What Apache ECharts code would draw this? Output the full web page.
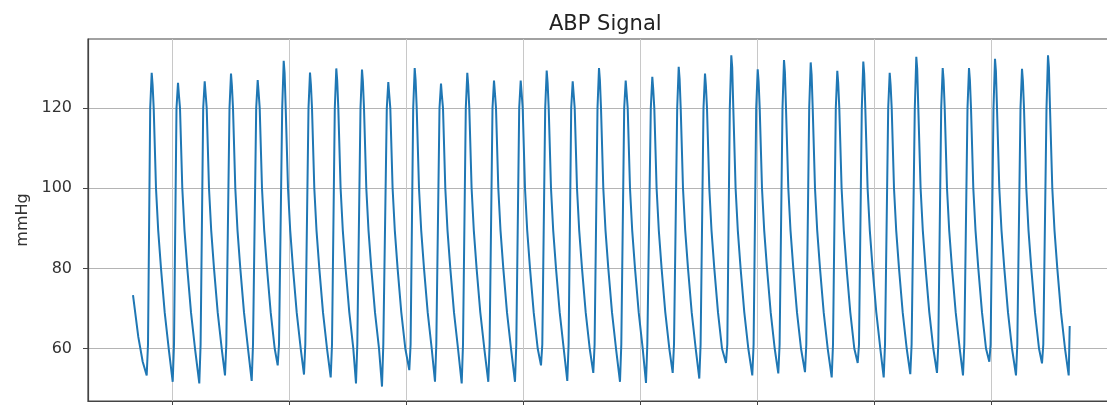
<!DOCTYPE html>
<html>
<head>
<meta charset="utf-8">
<title>ABP Signal</title>
<script src="https://cdn.jsdelivr.net/npm/echarts@6/dist/echarts.min.js"></script>
<style>
    html, body { margin: 0; padding: 0; background: #fff; }
    #abp_chart { width: 1107px; height: 405px; }
</style>
</head>
<body>
<div id="abp_chart"></div>
<script>
    // samples: [sample index, mmHg], one beat per line
    const abp = [
        [0, 73.3], [5.3, 62.9], [9.7, 56.7],
        [13.7, 53.3], [15, 61], [17.2, 120], [18.7, 128.8], [19.6, 125.8], [20.7, 120], [23, 100], [25.2, 89.5], [28, 80], [31.7, 69], [35.7, 60],
        [39.7, 51.7], [41, 61], [43.5, 120], [45, 126.3], [45.9, 123.3], [47, 120], [49.3, 100], [51.5, 89.5], [54.3, 80], [58, 69], [62, 60],
        [66.3, 51.3], [67.6, 61], [70.2, 120], [71.7, 126.7], [72.6, 123.7], [73.7, 120], [76, 100], [78.2, 89.5], [81, 80], [84.7, 69], [88.7, 60],
        [92, 53.3], [93.3, 61], [96.5, 120], [98, 128.6], [98.9, 125.6], [100, 120], [102.3, 100], [104.5, 89.5], [107.3, 80], [111, 69], [115, 60],
        [118.7, 51.9], [120, 61], [123.2, 120], [124.7, 127], [125.6, 124], [126.7, 120], [129, 100], [131.2, 89.5], [134, 80], [137.7, 69], [141.7, 60],
        [144.7, 55.8], [146, 61], [149.2, 120], [150.7, 131.8], [151.6, 128.8], [152.7, 120], [155, 100], [157.2, 89.5], [160, 80], [163.7, 69], [167.7, 60],
        [171, 53.5], [172.3, 61], [175.5, 120], [177, 128.9], [177.9, 125.9], [179, 120], [181.3, 100], [183.5, 89.5], [186.3, 80], [190, 69], [194, 60],
        [197.7, 52.8], [199, 61], [201.8, 120], [203.3, 129.9], [204.2, 126.9], [205.3, 120], [207.6, 100], [209.8, 89.5], [212.6, 80], [216.3, 69], [220.3, 60],
        [223, 51.3], [224.3, 61], [227.5, 120], [229, 129.6], [229.9, 126.6], [231, 120], [233.3, 100], [235.5, 89.5], [238.3, 80], [242, 69], [246, 60],
        [249, 50.5], [250.3, 61], [253.8, 120], [255.3, 126.5], [256.2, 123.5], [257.3, 120], [259.6, 100], [261.8, 89.5], [264.6, 80], [268.3, 69], [272.3, 60],
        [276.3, 54.6], [277.6, 61], [280.2, 120], [281.7, 130], [282.6, 127], [283.7, 120], [286, 100], [288.2, 89.5], [291, 80], [294.7, 69], [298.7, 60],
        [302, 51.7], [303.3, 61], [306.5, 120], [308, 126.1], [308.9, 123.1], [310, 120], [312.3, 100], [314.5, 89.5], [317.3, 80], [321, 69], [325, 60],
        [328.7, 51.3], [330, 61], [332.8, 120], [334.3, 128.8], [335.2, 125.8], [336.3, 120], [338.6, 100], [340.8, 89.5], [343.6, 80], [347.3, 69], [351.3, 60],
        [355.3, 51.7], [356.6, 61], [359.5, 120], [361, 126.9], [361.9, 123.9], [363, 120], [365.3, 100], [367.5, 89.5], [370.3, 80], [374, 69], [378, 60],
        [382, 51.7], [383.3, 61], [386.2, 120], [387.7, 126.9], [388.6, 123.9], [389.7, 120], [392, 100], [394.2, 89.5], [397, 80], [400.7, 69], [404.7, 60],
        [408, 55.8], [409.3, 61], [412.2, 120], [413.7, 129.4], [414.6, 126.4], [415.7, 120], [418, 100], [420.2, 89.5], [423, 80], [426.7, 69], [430.7, 60],
        [434.3, 51.9], [435.6, 61], [438.2, 120], [439.7, 126.7], [440.6, 123.7], [441.7, 120], [444, 100], [446.2, 89.5], [449, 80], [452.7, 69], [456.7, 60],
        [460.3, 53.9], [461.6, 61], [464.5, 120], [466, 130], [466.9, 127], [468, 120], [470.3, 100], [472.5, 89.5], [475.3, 80], [479, 69], [483, 60],
        [487, 51.7], [488.3, 61], [491.2, 120], [492.7, 126.9], [493.6, 123.9], [494.7, 120], [497, 100], [499.2, 89.5], [502, 80], [505.7, 69], [509.7, 60],
        [513, 51.4], [514.3, 61], [517.8, 120], [519.3, 127.8], [520.2, 124.8], [521.3, 120], [523.6, 100], [525.8, 89.5], [528.6, 80], [532.3, 69], [536.3, 60],
        [539.7, 53.9], [541, 61], [544.2, 120], [545.7, 130.3], [546.6, 127.3], [547.7, 120], [550, 100], [552.2, 89.5], [555, 80], [558.7, 69], [562.7, 60],
        [566.3, 52.5], [567.6, 61], [570.5, 120], [572, 128.6], [572.9, 125.6], [574, 120], [576.3, 100], [578.5, 89.5], [581.3, 80], [585, 69], [589, 60],
        [593, 56.4], [594.3, 61], [596.8, 120], [598.3, 133.2], [599.2, 130.2], [600.3, 120], [602.6, 100], [604.8, 89.5], [607.6, 80], [611.3, 69], [615.3, 60],
        [619.3, 53.3], [620.6, 61], [623.2, 120], [624.7, 129.7], [625.6, 126.7], [626.7, 120], [629, 100], [631.2, 89.5], [634, 80], [637.7, 69], [641.7, 60],
        [645.3, 53.8], [646.6, 61], [649.5, 120], [651, 132], [651.9, 129], [653, 120], [655.3, 100], [657.5, 89.5], [660.3, 80], [664, 69], [668, 60],
        [672, 54.1], [673.3, 61], [676.2, 120], [677.7, 131.4], [678.6, 128.4], [679.7, 120], [682, 100], [684.2, 89.5], [687, 80], [690.7, 69], [694.7, 60],
        [698.7, 52.8], [700, 61], [702.8, 120], [704.3, 129.3], [705.2, 126.3], [706.3, 120], [708.6, 100], [710.8, 89.5], [713.6, 80], [717.3, 69], [721.3, 60],
        [724.7, 56.4], [726, 61], [728.8, 120], [730.3, 131.6], [731.2, 128.6], [732.3, 120], [734.6, 100], [736.8, 89.5], [739.6, 80], [743.3, 69], [747.3, 60],
        [750.7, 52.8], [752, 61], [755.2, 120], [756.7, 128.8], [757.6, 125.8], [758.7, 120], [761, 100], [763.2, 89.5], [766, 80], [769.7, 69], [773.7, 60],
        [777.3, 53.6], [778.6, 61], [781.8, 120], [783.3, 132.8], [784.2, 129.8], [785.3, 120], [787.6, 100], [789.8, 89.5], [792.6, 80], [796.3, 69], [800.3, 60],
        [804, 53.9], [805.3, 61], [808.2, 120], [809.7, 130], [810.6, 127], [811.7, 120], [814, 100], [816.2, 89.5], [819, 80], [822.7, 69], [826.7, 60],
        [830, 53.3], [831.3, 61], [834.5, 120], [836, 130], [836.9, 127], [838, 120], [840.3, 100], [842.5, 89.5], [845.3, 80], [849, 69], [853, 60],
        [856.3, 56.7], [857.6, 61], [860.5, 120], [862, 132.3], [862.9, 129.3], [864, 120], [866.3, 100], [868.5, 89.5], [871.3, 80], [875, 69], [879, 60],
        [883, 53.3], [884.3, 61], [887.5, 120], [889, 129.8], [889.9, 126.8], [891, 120], [893.3, 100], [895.5, 89.5], [898.3, 80], [902, 69], [906, 60],
        [909, 56.3], [910.3, 61], [913.5, 120], [915, 133.2], [915.9, 130.2], [917, 120], [919.3, 100], [921.5, 89.5], [924.3, 80], [928, 69], [932, 60],
        [935.7, 53.3], [936.7, 65.6]
    ];

    // vertical grid positions (x tick labels are cut off in the picture)
    const xTicks = [39.7, 156.7, 273.7, 390.7, 507.7, 624.7, 741.7, 858.7];
    const yTicks = [60, 80, 100, 120];

    const font = 'DejaVu Sans';

    const chart = echarts.init(document.getElementById('abp_chart'));
    chart.setOption({
        animation: false,
        title: {
            text: 'ABP Signal',
            left: 544,
            top: 9,
            textStyle: {
                fontFamily: font,
                fontSize: 21,
                fontWeight: 'normal',
                color: '#222'
            }
        },
        grid: {
            left: 88,
            right: -9,
            top: 39,
            bottom: 4,
            containLabel: false,
            outerBoundsMode: 'none',
            show: true,
            borderColor: '#444',
            borderWidth: 1.2
        },
        xAxis: {
            type: 'value',
            min: -45,
            max: 983,
            axisLine: {show: true, onZero: false, lineStyle: {color: '#444', width: 1.2}},
            axisTick: {show: true, length: 5, customValues: xTicks, lineStyle: {color: '#444'}},
            axisLabel: {show: false, customValues: xTicks},
            splitLine: {show: true, lineStyle: {color: '#c8c8c8', width: 1}}
        },
        yAxis: {
            type: 'value',
            min: 46.9,
            max: 137.25,
            name: 'mmHg',
            nameLocation: 'middle',
            nameGap: 46,
            nameTextStyle: {fontFamily: font, fontSize: 16, color: '#333'},
            axisLine: {show: true, onZero: false, lineStyle: {color: '#444', width: 1.2}},
            axisTick: {show: true, length: 5, customValues: yTicks, lineStyle: {color: '#444'}},
            axisLabel: {
                customValues: yTicks,
                margin: 16,
                fontFamily: font,
                fontSize: 16,
                color: '#333'
            },
            splitLine: {show: true, lineStyle: {color: '#b4b4b4', width: 1}}
        },
        series: [{
            type: 'line',
            data: abp,
            showSymbol: false,
            symbol: 'none',
            sampling: false,
            lineStyle: {color: '#1f77b4', width: 2},
            clip: true
        }]
    });
</script>
</body>
</html>
